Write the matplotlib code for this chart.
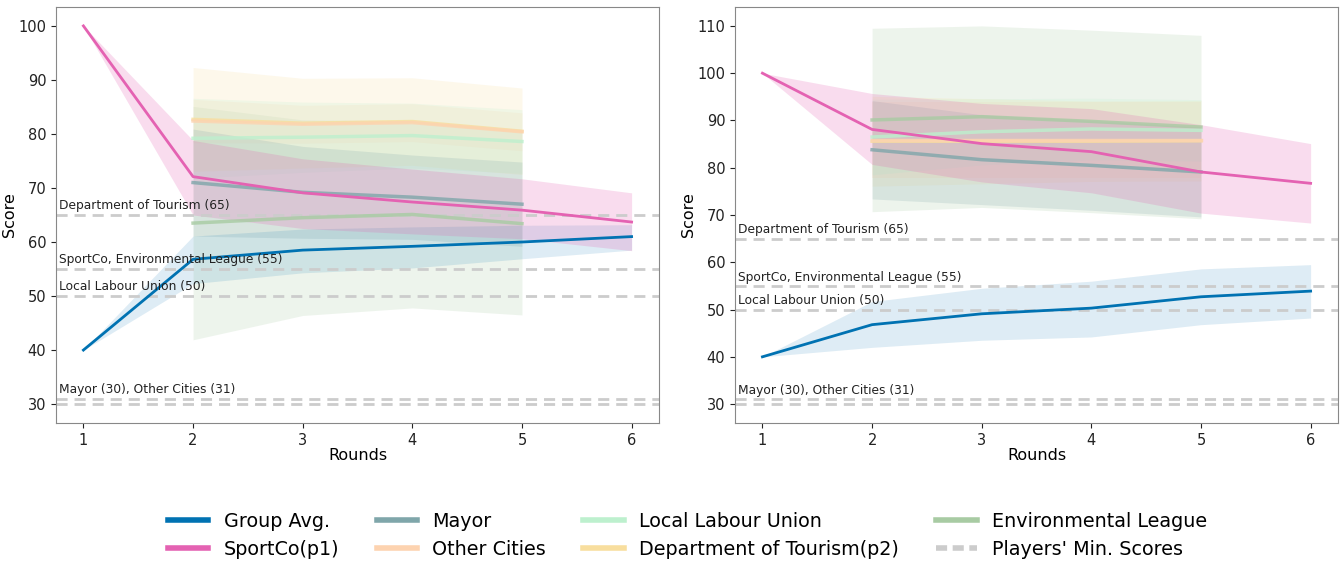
import numpy as np
import matplotlib.pyplot as plt
from matplotlib.lines import Line2D

rounds_all = [1, 2, 3, 4, 5, 6]
rounds_mid = [2, 3, 4, 5]

# left panel
avg_L = [40, 56.8, 58.5, 59.2, 60.0, 61.0]
avg_lo_L = [40, 52.3, 54.3, 55.2, 56.9, 58.5]
avg_hi_L = [40, 61.1, 62.4, 62.8, 63.1, 63.2]
sport_L = [100, 72.1, 69.1, 67.4, 65.9, 63.7]
sport_lo_L = [100, 65.0, 62.5, 61.5, 60.6, 58.4]
sport_hi_L = [100, 78.8, 75.4, 73.5, 71.7, 69.1]
mayor_L = [71.0, 69.2, 68.3, 67.0]
mayor_hw_L = [9.9, 8.5, 7.8, 7.8]
other_L = [82.4, 81.8, 82.1, 80.4]
other_hw_L = [4.0, 3.5, 3.5, 3.5]
llu_L = [79.2, 79.4, 79.7, 78.6]
llu_hw_L = [7.4, 6.5, 6.0, 5.9]
env_L = [63.5, 64.5, 65.1, 63.4]
env_hw_L = [21.6, 18.1, 17.3, 16.9]
dot_L = [82.7, 82.0, 82.3, 80.5]
dot_hw_L = [9.6, 8.3, 8.1, 8.0]

# right panel
avg_R = [40, 46.8, 49.1, 50.3, 52.7, 53.9]
avg_lo_R = [40, 42.0, 43.5, 44.2, 46.8, 48.2]
avg_hi_R = [40, 51.7, 54.5, 56.0, 58.6, 59.5]
sport_R = [100, 88.1, 85.1, 83.4, 79.1, 76.7]
sport_lo_R = [100, 80.7, 77.0, 74.7, 70.4, 68.3]
sport_hi_R = [100, 95.7, 93.6, 92.5, 89.1, 85.1]
mayor_R = [83.8, 81.7, 80.5, 79.1]
mayor_hw_R = [10.4, 9.5, 9.5, 9.5]
other_R = [85.8, 85.8, 85.8, 85.8]
other_hw_R = [8.0, 8.0, 8.0, 8.0]
llu_R = [86.5, 87.6, 88.2, 87.9]
llu_hw_R = [8.0, 7.0, 6.5, 6.5]
env_R = [90.1, 90.8, 89.8, 88.6]
env_hw_R = [19.4, 19.2, 19.3, 19.4]
dot_R = [85.6, 85.6, 85.6, 85.7]
dot_hw_R = [9.5, 9.0, 8.5, 8.5]

min_scores = [65, 55, 50, 31, 30]
min_labels = {65: "Department of Tourism (65)", 55: "SportCo, Environmental League (55)",
              50: "Local Labour Union (50)", 31: "Mayor (30), Other Cities (31)"}

c_avg = '#0072B2'
c_sport = '#E462B2'
c_mayor = '#7FA6AA'
c_other = '#FDD3B0'
c_llu = '#BDF0CE'
c_env = '#A8CBA3'
c_dot = '#F8DE9E'
c_min = '#CCCCCC'


def band(ax, x, mean, hw, color):
    mean = np.array(mean)
    hw = np.array(hw)
    ax.fill_between(x, mean - hw, mean + hw, color=color, alpha=0.2, lw=0)
    ax.plot(x, mean, color=color, lw=2.5, alpha=0.8)


def draw(ax, avg, alo, ahi, sp, slo, shi, mayor, mhw, other, ohw, llu, lhw, env, ehw, dot, dhw):
    for y in min_scores:
        ax.axhline(y, color=c_min, ls='--', lw=2, dashes=(4, 2.5))
    for y, lab in min_labels.items():
        ax.text(0.78, y + 0.5, lab, fontsize=8.8, color='#222222', va='bottom', ha='left')
    band(ax, rounds_mid, env, ehw, c_env)
    band(ax, rounds_mid, dot, dhw, c_dot)
    band(ax, rounds_mid, other, ohw, c_other)
    band(ax, rounds_mid, llu, lhw, c_llu)
    band(ax, rounds_mid, mayor, mhw, c_mayor)
    ax.fill_between(rounds_all, alo, ahi, color=c_avg, alpha=0.13, lw=0)
    ax.plot(rounds_all, avg, color=c_avg, lw=2)
    ax.fill_between(rounds_all, slo, shi, color=c_sport, alpha=0.22, lw=0)
    ax.plot(rounds_all, sp, color=c_sport, lw=2)
    ax.set_xlabel("Rounds", fontsize=11.5, labelpad=0)
    ax.set_ylabel("Score", fontsize=11.5, labelpad=1)
    ax.tick_params(labelsize=10.5, colors='#222222')
    for s in ax.spines.values():
        s.set_edgecolor('#888888')


fig = plt.figure(figsize=(13.43, 5.64), dpi=100)
ax1 = fig.add_axes([0.0417, 0.25, 0.449, 0.7376])
ax2 = fig.add_axes([0.5473, 0.25, 0.449, 0.7376])

draw(ax1, avg_L, avg_lo_L, avg_hi_L, sport_L, sport_lo_L, sport_hi_L,
     mayor_L, mayor_hw_L, other_L, other_hw_L, llu_L, llu_hw_L, env_L, env_hw_L, dot_L, dot_hw_L)
draw(ax2, avg_R, avg_lo_R, avg_hi_R, sport_R, sport_lo_R, sport_hi_R,
     mayor_R, mayor_hw_R, other_R, other_hw_R, llu_R, llu_hw_R, env_R, env_hw_R, dot_R, dot_hw_R)

handles = [
    Line2D([], [], color=c_avg, lw=4),
    Line2D([], [], color=c_sport, lw=4),
    Line2D([], [], color=c_mayor, lw=4),
    Line2D([], [], color=c_other, lw=4),
    Line2D([], [], color=c_llu, lw=4),
    Line2D([], [], color=c_dot, lw=4),
    Line2D([], [], color=c_env, lw=4),
    Line2D([], [], color=c_min, lw=4, ls='--', dashes=(2, 1)),
]
labels = ["Group Avg.", "SportCo(p1)", "Mayor", "Other Cities", "Local Labour Union",
          "Department of Tourism(p2)", "Environmental League", "Players' Min. Scores"]
fig.legend(handles, labels, loc='center', bbox_to_anchor=(0.512, 0.051), ncol=4,
           frameon=False, fontsize=13.8, handlelength=2.1, handletextpad=0.8,
           columnspacing=1.95, labelspacing=0.45)

fig.savefig("out.png", dpi=100)
